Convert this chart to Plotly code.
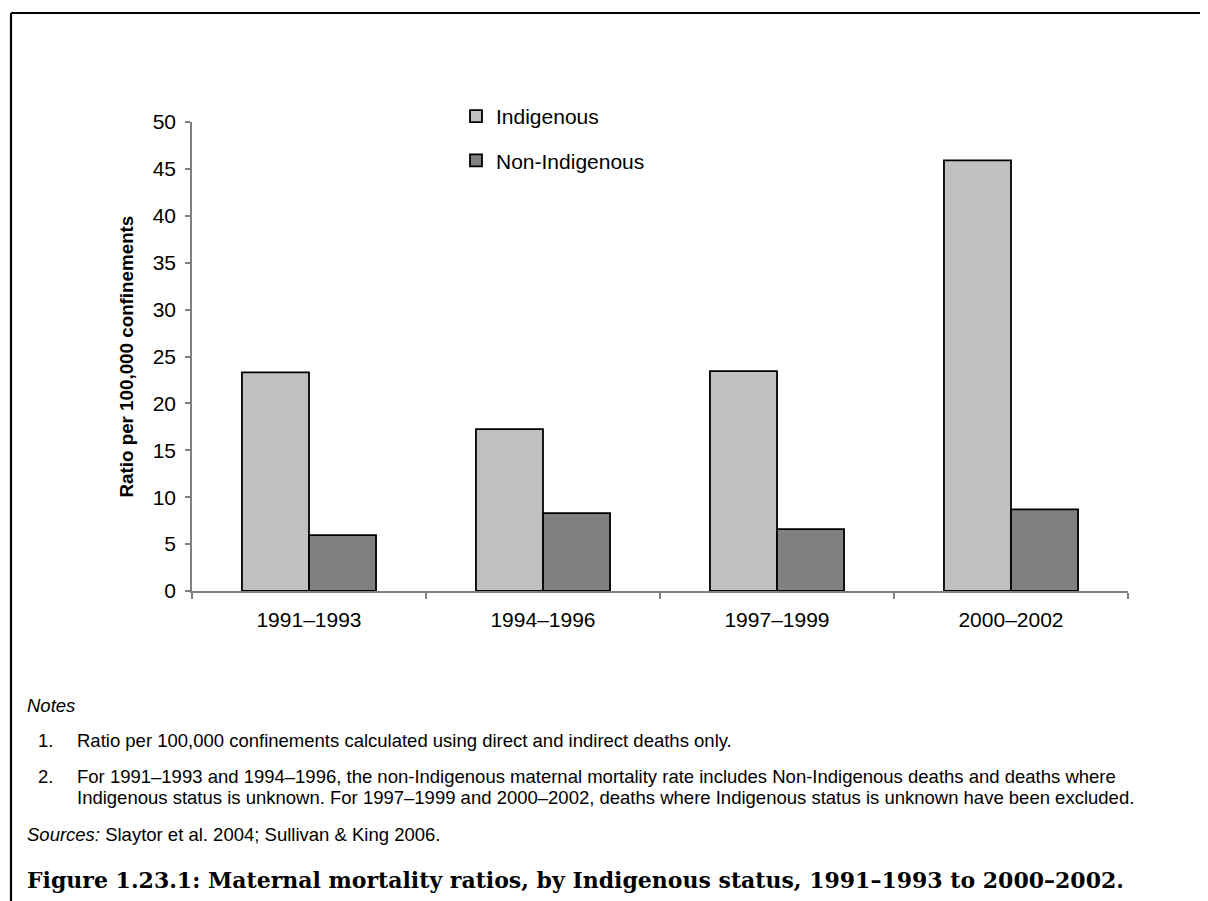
import plotly.graph_objects as go

categories = ["1991–1993", "1994–1996", "1997–1999", "2000–2002"]
indigenous = [23.3, 17.25, 23.45, 45.9]
non_indigenous = [5.95, 8.3, 6.6, 8.7]
y_ticks = [0, 5, 10, 15, 20, 25, 30, 35, 40, 45, 50]

OFF = 8  # browser body margin
W, H = 1208 - OFF, 901 - OFF
# plot area in page pixel coordinates
L, R, T, B = 192, 1128, 122, 591
PW, PH = R - L, B - T


def px(x):
    return (x - L) / PW


def py(y):
    return (B - y) / PH


FONT = "Liberation Sans, Arial, sans-serif"

fig = go.Figure()
fig.add_trace(go.Bar(x=categories, y=indigenous, name="Indigenous",
                     marker=dict(color="#C0C0C0", line=dict(color="#000000", width=1.8)),
                     legendgroup="a"))
fig.add_trace(go.Bar(x=categories, y=non_indigenous, name="Non-Indigenous",
                     marker=dict(color="#808080", line=dict(color="#000000", width=1.8)),
                     legendgroup="b"))

fig.update_layout(
    width=W, height=H,
    margin=dict(l=L - OFF, r=W - (R - OFF), t=T - OFF, b=H - (B - OFF), pad=0),
    paper_bgcolor="white", plot_bgcolor="white",
    barmode="group", bargap=0.427, bargroupgap=0,
    font=dict(family=FONT, size=21, color="#000000"),
    showlegend=True,
    legend=dict(x=px(456), y=py(96), xanchor="left", yanchor="top",
                bgcolor="rgba(0,0,0,0)", font=dict(size=21),
                traceorder="grouped", tracegroupgap=14, itemwidth=30),
    xaxis=dict(showline=True, linecolor="#808080", linewidth=1.5,
               ticks="outside", tickson="boundaries", ticklen=6, tickcolor="#808080",
               tickwidth=1.5, showgrid=False, tickfont=dict(size=21),
               ticklabelstandoff=9),
    yaxis=dict(range=[0, 50], tickvals=y_ticks, showline=True, linecolor="#808080",
               linewidth=1.5, ticks="outside", ticklen=5, tickcolor="#808080",
               tickwidth=1.5, showgrid=False, zeroline=False, tickfont=dict(size=21),
               ticklabelstandoff=5),
)

fig.add_annotation(text="<b>Ratio per 100,000 confinements</b>", x=px(126), y=0.5,
                   xref="paper", yref="paper", textangle=-90, showarrow=False,
                   font=dict(size=18.8, family=FONT), xanchor="center", yanchor="middle")

notes = [
    ("<i>Notes</i>", 25, 705),
    ("1.", 36, 740),
    ("Ratio per 100,000 confinements calculated using direct and indirect deaths only.", 75, 740),
    ("2.", 36, 776),
    ("For 1991–1993 and 1994–1996, the non-Indigenous maternal mortality rate includes Non-Indigenous deaths and deaths where", 75, 776),
    ("Indigenous status is unknown. For 1997–1999 and 2000–2002, deaths where Indigenous status is unknown have been excluded.", 75, 797),
    ("<i>Sources:</i> Slaytor et al. 2004; Sullivan &amp; King 2006.", 25, 834),
]
for txt, x, y in notes:
    fig.add_annotation(text=txt, x=px(x), y=py(y), xref="paper", yref="paper",
                       showarrow=False, xanchor="left", yanchor="middle",
                       font=dict(size=18.5, family=FONT))

fig.add_annotation(text="<b>Figure 1.23.1: Maternal mortality ratios, by Indigenous status, 1991–1993 to 2000–2002.</b>",
                   x=px(25), y=py(880), xref="paper", yref="paper", showarrow=False,
                   xanchor="left", yanchor="middle",
                   font=dict(size=22, family="DejaVu Serif, serif"))

# page frame
fig.add_shape(type="line", xref="paper", yref="paper", x0=px(11), x1=px(1212),
              y0=py(13), y1=py(13), line=dict(color="black", width=2.2))
fig.add_shape(type="line", xref="paper", yref="paper", x0=px(11), x1=px(11),
              y0=py(13), y1=py(910), line=dict(color="black", width=2.2))

fig.write_html("out.html")
